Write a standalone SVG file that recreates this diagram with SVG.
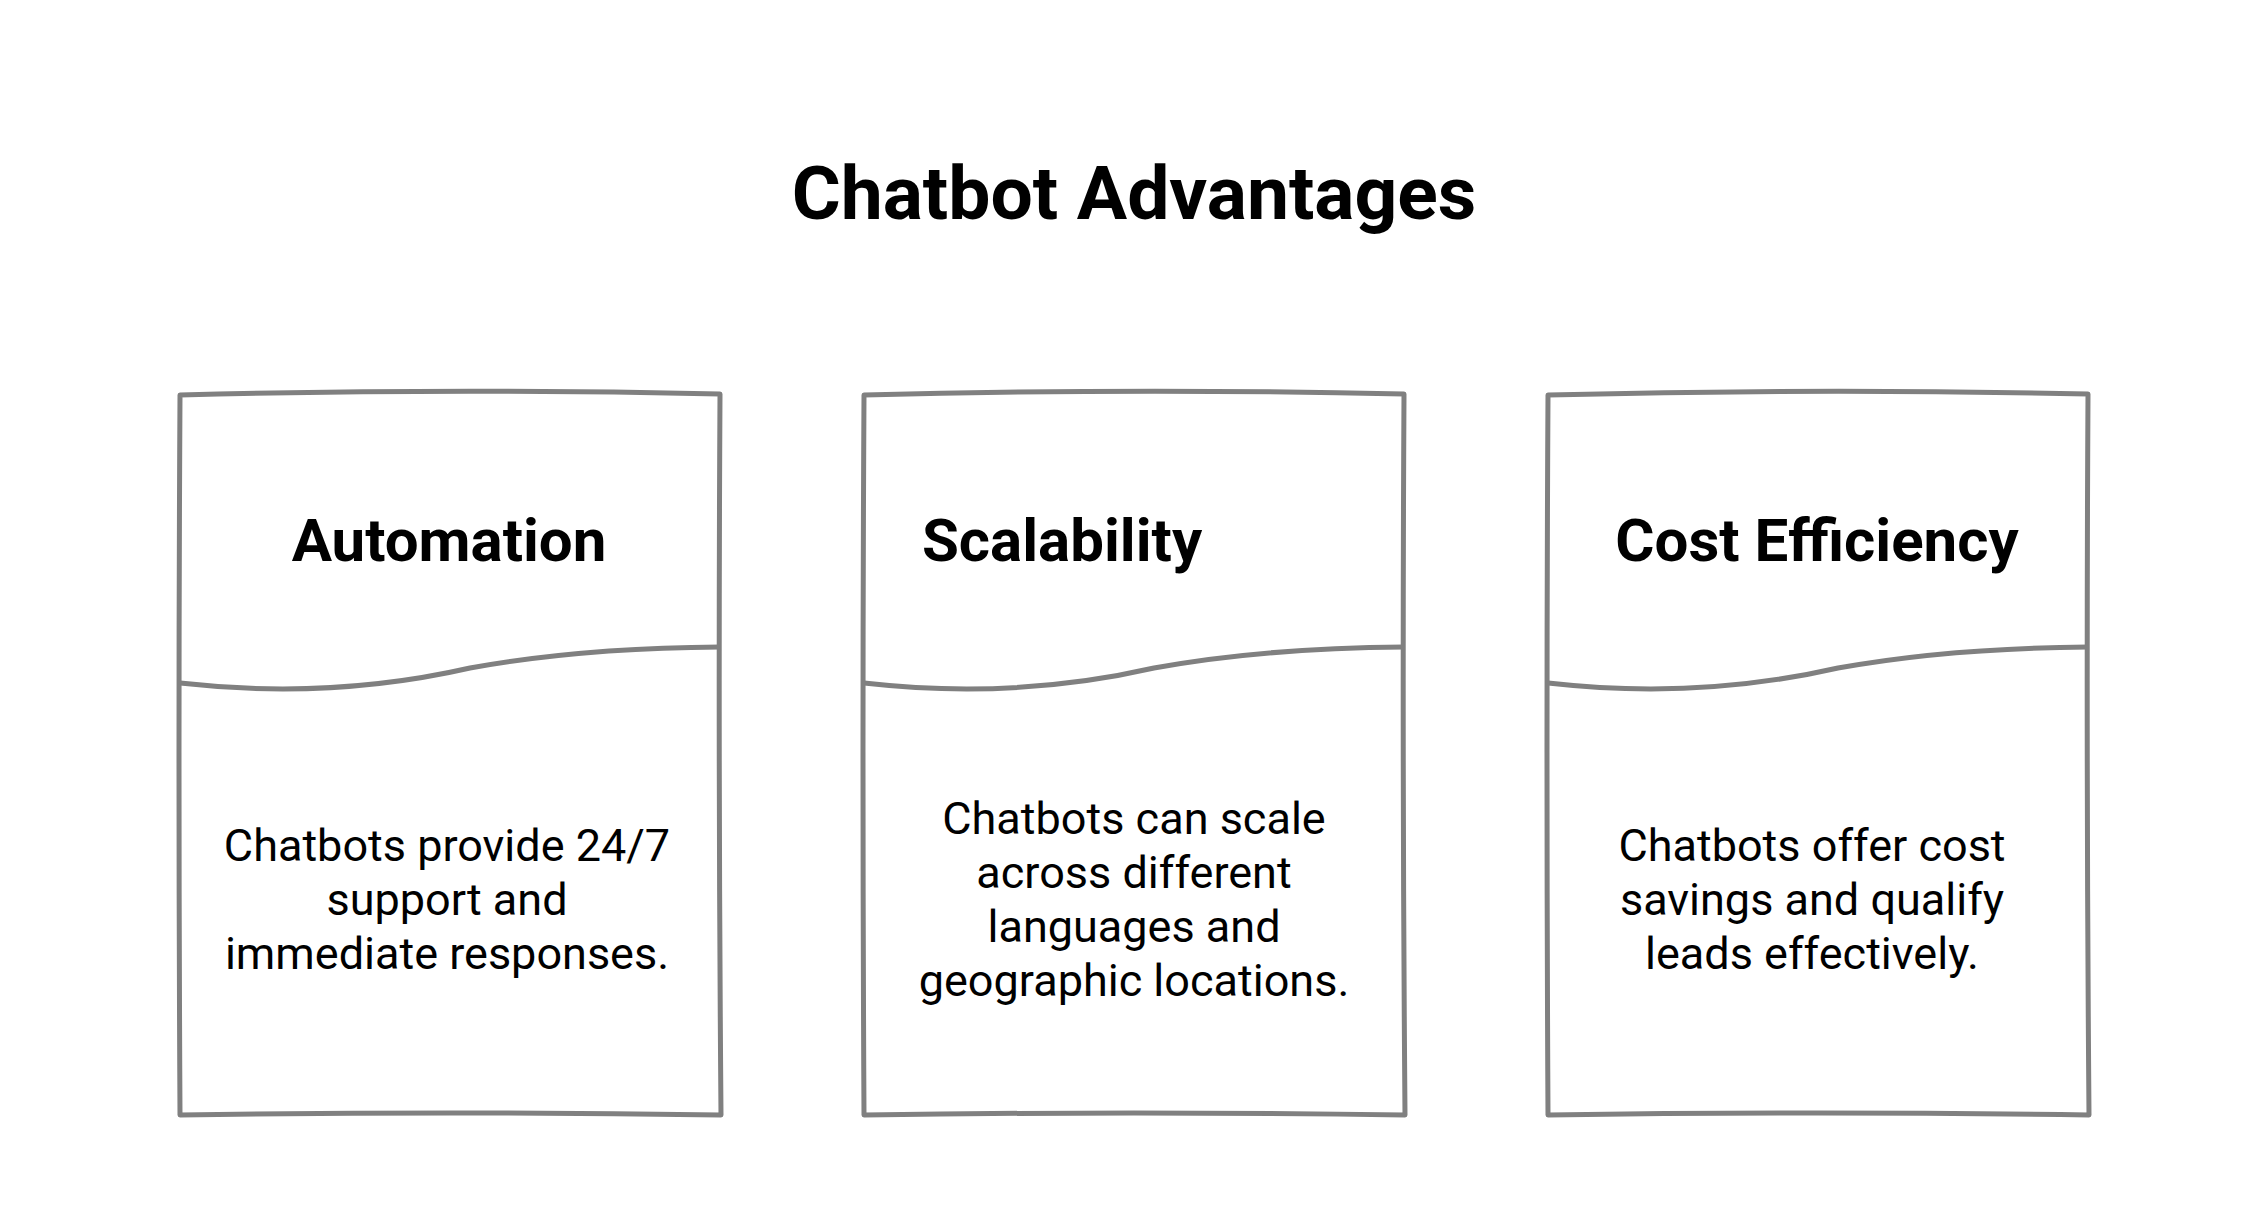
<svg xmlns="http://www.w3.org/2000/svg" width="2268" height="1221" viewBox="0 0 2268 1221">
<style>
.b{fill:#fff;stroke:#808080;stroke-width:5;stroke-linejoin:round}
.d{fill:none;stroke:#808080;stroke-width:5}
.t{font-family:Roboto,"Liberation Sans",sans-serif;fill:#000;text-anchor:middle}
.h{font-size:60px;font-weight:bold}
.x{font-size:45px}
</style>
<rect width="2268" height="1221" fill="#fff"/>
<text class="t" x="1134" y="219" font-size="75" font-weight="bold">Chatbot Advantages</text>
<g id="automation">
<path class="b" d="M180,395 Q450,388 720,394 Q718,750 721,1115 Q450,1111 180,1115 Q178,750 180,395 Z"/>
<path class="d" d="M180,683 Q330,700 470,668 Q580,648 720,647"/>
<text class="t h" x="449" y="561">Automation</text>
<text class="t x" x="447" y="861">Chatbots provide 24/7</text>
<text class="t x" x="447" y="915">support and</text>
<text class="t x" x="447" y="969">immediate responses.</text>
</g>
<g id="scalability">
<path class="b" d="M864,395 Q1134,388 1404,394 Q1402,750 1405,1115 Q1134,1111 864,1115 Q862,750 864,395 Z"/>
<path class="d" d="M864,683 Q1014,700 1154,668 Q1264,648 1404,647"/>
<text class="t h" x="1062" y="561">Scalability</text>
<text class="t x" x="1134" y="834">Chatbots can scale</text>
<text class="t x" x="1134" y="888">across different</text>
<text class="t x" x="1134" y="942">languages and</text>
<text class="t x" x="1134" y="996">geographic locations.</text>
</g>
<g id="cost">
<path class="b" d="M1548,395 Q1818,388 2088,394 Q2086,750 2089,1115 Q1818,1111 1548,1115 Q1546,750 1548,395 Z"/>
<path class="d" d="M1548,683 Q1698,700 1838,668 Q1948,648 2088,647"/>
<text class="t h" x="1817" y="561">Cost Efficiency</text>
<text class="t x" x="1812" y="861">Chatbots offer cost</text>
<text class="t x" x="1812" y="915">savings and qualify</text>
<text class="t x" x="1812" y="969">leads effectively.</text>
</g>
<g id="connectors"/>
</svg>
